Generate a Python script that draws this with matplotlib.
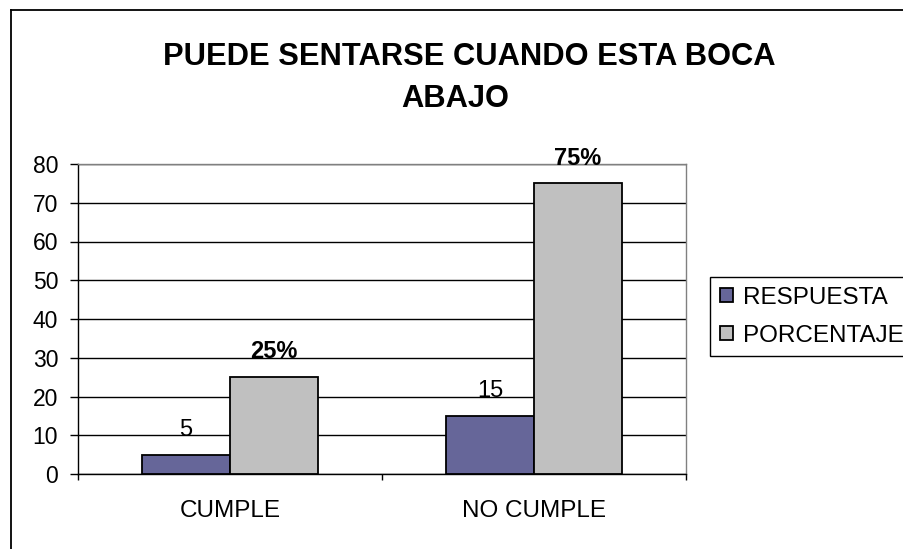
import matplotlib
matplotlib.use("Agg")
import matplotlib.pyplot as plt
from matplotlib.lines import Line2D
import numpy as np

plt.rcParams['font.family'] = ['Liberation Sans', 'DejaVu Sans']

# ---- data ----
title_lines = ["PUEDE SENTARSE CUANDO ESTA BOCA", "ABAJO"]
categories = ["CUMPLE", "NO CUMPLE"]
series_names = ["RESPUESTA", "PORCENTAJE"]
respuesta = [5, 15]
porcentaje = [25, 75]
porcentaje_labels = ["25%", "75%"]
yticks = [0, 10, 20, 30, 40, 50, 60, 70, 80]

col_resp = "#666699"
col_porc = "#C0C0C0"

W, H = 904, 549
fig = plt.figure(figsize=(W / 100, H / 100), dpi=100)
fig.patch.set_facecolor("white")

# chart-area border (left and top edges visible)
fig.add_artist(Line2D([10.5 / W, 10.5 / W], [0, 1 - 9.5 / H], transform=fig.transFigure,
                      color="black", lw=1.3))
fig.add_artist(Line2D([10.5 / W, 1], [1 - 9.5 / H, 1 - 9.5 / H], transform=fig.transFigure,
                      color="black", lw=1.3))

left, right, bottom, top = 78 / W, 686 / W, 1 - 474 / H, 1 - 164 / H
ax = fig.add_axes([left, bottom, right - left, top - bottom])

x = np.arange(len(categories))
bw = 0.29
b1 = ax.bar(x - bw / 2, respuesta, bw, color=col_resp, edgecolor="black", lw=1.3,
            label=series_names[0], zorder=3)
b2 = ax.bar(x + bw / 2, porcentaje, bw, color=col_porc, edgecolor="black", lw=1.3,
            label=series_names[1], zorder=3)

for xi, v in zip(x, respuesta):
    ax.annotate(str(v), (xi - bw / 2, v), xytext=(0, 13.5), textcoords="offset points",
                ha="center", va="baseline", fontsize=17)
for xi, v, lab in zip(x, porcentaje, porcentaje_labels):
    ax.annotate(lab, (xi + bw / 2, v), xytext=(0, 13.5), textcoords="offset points",
                ha="center", va="baseline", fontsize=17, fontweight="bold")

ax.set_xlim(-0.5, 1.5)
ax.set_ylim(0, 80)
ax.set_yticks(yticks)
ax.set_yticklabels([str(t) for t in yticks])
ax.yaxis.grid(True, color="black", lw=1.0, zorder=0)
ax.set_axisbelow(True)

ax.set_xticks([-0.5, 0.5, 1.5])
ax.set_xticklabels([])
ax.set_xticks(x, minor=True)
ax.set_xticklabels(categories, minor=True)
ax.tick_params(axis="x", which="major", direction="out", length=4.5, width=1, color="black")
ax.tick_params(axis="x", which="minor", length=0, pad=19, labelsize=17.5)
ax.tick_params(axis="y", direction="out", length=5.8, width=1, color="black",
               pad=8.5, labelsize=16.5)

ax.spines["left"].set_color("black")
ax.spines["bottom"].set_color("black")
ax.spines["top"].set_color("#808080")
ax.spines["right"].set_color("#808080")
for s in ax.spines.values():
    s.set_linewidth(1.0)

# title (two centred lines, as wrapped in the original)
fig.text(469 / W, 1 - 57 / H, title_lines[0], ha="center", va="center", fontsize=22.2,
         fontweight="bold")
fig.text(455 / W, 1 - 99 / H, title_lines[1], ha="center", va="center", fontsize=22.2,
         fontweight="bold")

leg = fig.legend(handles=[b1, b2], labels=series_names, loc="upper left",
                 bbox_to_anchor=(710 / W, 1 - 277 / H, 230 / W, 0),
                 bbox_transform=fig.transFigure, mode="expand",
                 fontsize=17.5, frameon=True, fancybox=False, edgecolor="black",
                 framealpha=1, handlelength=0.55, handleheight=0.55,
                 handletextpad=0.4, labelspacing=0.65, borderpad=0.4, borderaxespad=0)
leg.get_frame().set_linewidth(1.0)

fig.savefig("out.png", dpi=100, facecolor="white")
